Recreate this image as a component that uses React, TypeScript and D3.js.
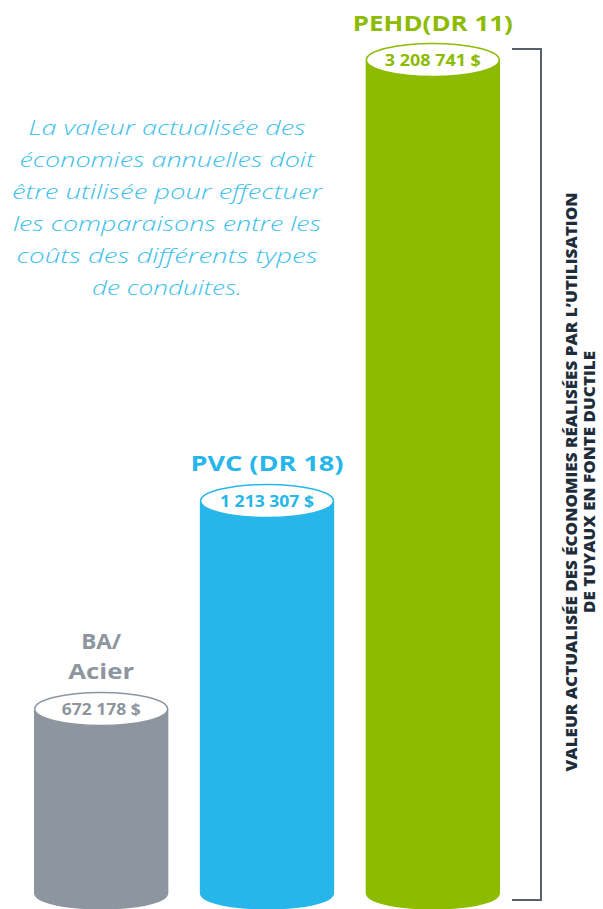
import React from "react";
import * as d3 from "d3";

const categories = ["BA/ Acier", "PVC (DR 18)", "PEHD(DR 11)"];
const categoryLines = [["BA/", "Acier"], ["PVC (DR 18)"], ["PEHD(DR 11)"]];
const categoryLineWidths = [[40, 66], [153], [160]];
const values = [672178, 1213307, 3208741];
const valueLabels = ["672 178 $", "1 213 307 $", "3 208 741 $"];
const valueLabelWidths = [79, 94, 96];
const colors = ["#8d959e", "#27b6e9", "#8cbb00"];
const noteLines = [
  "La valeur actualisée des",
  "économies annuelles doit",
  "être utilisée pour effectuer",
  "les comparaisons entre les",
  "coûts des différents types",
  "de conduites.",
];
const noteWidths = [277, 295, 310, 308, 301, 150];
const axisTitleLines = [
  "VALEUR ACTUALISÉE DES ÉCONOMIES RÉALISÉES PAR L’UTILISATION",
  "DE TUYAUX EN FONTE DUCTILE",
];
const axisTitleWidths = [579, 262];

const W = 603;
const H = 909;
const BASE = 893;
const RY = 16.5;

export default function App() {
  const x = d3.scaleBand<string>().domain(categories).range([34, 500]).paddingInner(0.19).paddingOuter(0);
  const y = d3.scalePow().exponent(0.32).domain([356000, 3208741]).range([BASE, 60]);
  const bw = x.bandwidth();
  const rx = bw / 2;

  return (
    <svg width={W} height={H} style={{ position: "absolute", left: 0, top: 0, background: "#fff" }}>
      {categories.map((c, i) => {
        const x0 = x(c)!;
        const x1 = x0 + bw;
        const cx = x0 + rx;
        const yt = y(values[i]);
        const body = d3.path();
        body.moveTo(x0, yt);
        body.lineTo(x0, BASE);
        body.bezierCurveTo(x0, BASE + RY * 1.33, x1, BASE + RY * 1.33, x1, BASE);
        body.lineTo(x1, yt);
        body.closePath();
        const lines = categoryLines[i];
        const lastBase = yt - RY - 13;
        return (
          <g key={c}>
            <path d={body.toString()} fill={colors[i]} />
            <ellipse cx={cx} cy={yt} rx={rx - 0.75} ry={RY} fill="#fff" stroke={colors[i]} strokeWidth={1.5} />
            <text
              x={cx}
              y={yt + 6}
              textAnchor="middle"
              fill={colors[i]}
              fontFamily="'Open Sans', sans-serif"
              fontWeight={700}
              fontSize={16}
              textLength={valueLabelWidths[i]}
              lengthAdjust="spacingAndGlyphs"
            >
              {valueLabels[i]}
            </text>
            {lines.map((l, j) => (
              <text
                key={j}
                x={cx}
                y={lastBase - (lines.length - 1 - j) * 30}
                textAnchor="middle"
                fill={colors[i]}
                fontFamily="'Open Sans', sans-serif"
                fontWeight={700}
                fontSize={22}
                textLength={categoryLineWidths[i][j]}
                lengthAdjust="spacingAndGlyphs"
              >
                {l}
              </text>
            ))}
          </g>
        );
      })}

      {noteLines.map((l, i) => (
        <text
          key={i}
          x={167}
          y={135 + i * 32}
          textAnchor="middle"
          fill="#3ec0ec"
          fontFamily="'Open Sans', sans-serif"
          fontStyle="italic"
          fontWeight={300}
          fontSize={20}
          textLength={noteWidths[i]}
          lengthAdjust="spacingAndGlyphs"
        >
          {l}
        </text>
      ))}

      <path d={`M512,49 H541 V900 H512`} fill="none" stroke="#56616c" strokeWidth={2} />

      {axisTitleLines.map((l, i) => (
        <text
          key={i}
          transform={`translate(${577 + i * 18},482) rotate(-90)`}
          textAnchor="middle"
          fill="#1f2d3b"
          fontFamily="'Open Sans', sans-serif"
          fontWeight={800}
          fontSize={15}
          textLength={axisTitleWidths[i]}
          lengthAdjust="spacingAndGlyphs"
        >
          {l}
        </text>
      ))}
    </svg>
  );
}
